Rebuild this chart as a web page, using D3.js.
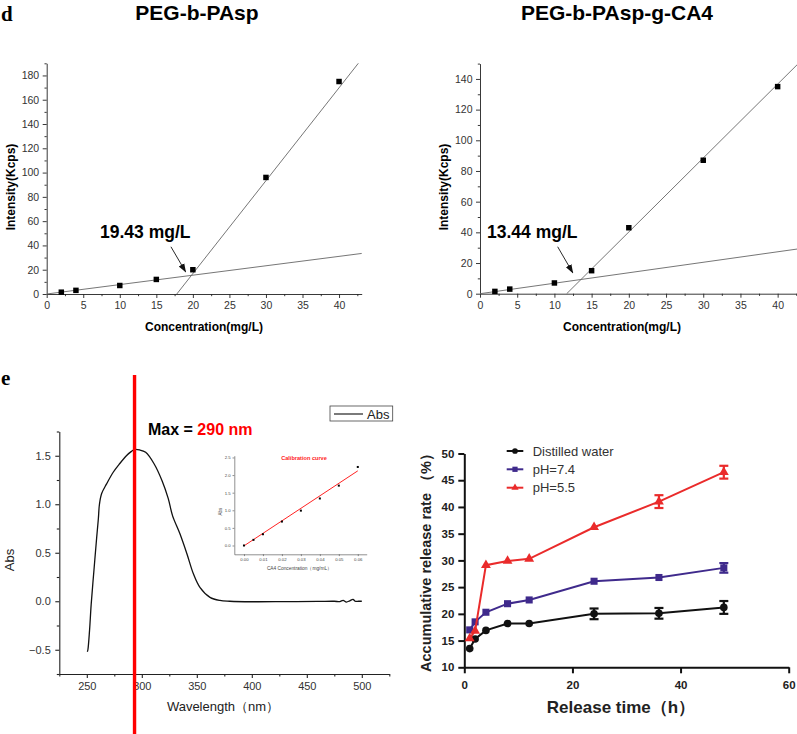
<!DOCTYPE html>
<html><head><meta charset="utf-8">
<script src="https://cdn.jsdelivr.net/npm/d3@7"></script>
<style>body{margin:0;background:#fff}svg{display:block}</style>
</head><body>
<svg id="c" width="797" height="734"></svg>
<script>
// ---------- Panel d (left): PEG-b-PAsp ----------
const concA = [2, 4, 10, 15, 20, 30, 40];
const intensityA = [1.5, 3, 7, 12, 20, 96, 175];
const fitLowA = { slope: 0.775, intercept: 0 };
const fitHighA = { slope: 7.65, x0: 17.8 };
const cmcLabelA = "19.43 mg/L";
const cmcTextA = [7.3, 46];
const cmcArrowA = [[17.0, 38.9], [19.0, 18.3]];

// ---------- Panel d (right): PEG-b-PAsp-g-CA4 ----------
const concB = [2, 4, 10, 15, 20, 30, 40];
const intensityB = [1.5, 3, 7, 15, 43, 87, 135];
const fitLowB = { slope: 0.683, intercept: 0 };
const fitHighB = { slope: 4.82, x0: 11.65 };
const cmcLabelB = "13.44 mg/L";
const cmcTextB = [0.94, 36.3];
const cmcArrowB = [[10.44, 30.6], [12.46, 13.7]];

const concTicks = [0, 5, 10, 15, 20, 25, 30, 35, 40];
const concMinor = [2.5, 7.5, 12.5, 17.5, 22.5, 27.5, 32.5, 37.5, 42.5];
const intTicksA = [0, 20, 40, 60, 80, 100, 120, 140, 160, 180];
const intMinorA = [10, 30, 50, 70, 90, 110, 130, 150, 170, 190];
const intTicksB = [0, 20, 40, 60, 80, 100, 120, 140];
const intMinorB = [10, 30, 50, 70, 90, 110, 130, 150];

// ---------- Panel e (left): UV spectrum ----------
const wavelength = [250.5, 251, 252.5, 254, 256.5, 259, 260.5, 261.5, 263.5, 268, 274, 280, 286, 290, 293.5, 298, 303.5, 311, 318.5, 324, 328, 334.5, 341, 347, 353, 362, 371, 380, 400, 430, 460, 475, 480, 483, 486, 489, 492, 494, 497, 500];
const absorbance = [-0.52, -0.50, -0.30, -0.03, 0.32, 0.66, 0.85, 1.00, 1.11, 1.21, 1.33, 1.42, 1.50, 1.54, 1.565, 1.56, 1.535, 1.42, 1.24, 1.06, 0.88, 0.70, 0.49, 0.28, 0.14, 0.04, 0.008, 0.0, -0.005, -0.004, -0.002, 0.0, -0.004, 0.01, -0.008, 0.004, 0.02, 0.0, 0.0, 0.0];
const maxWavelengthLine = 293.4;
const wlTicks = [250, 300, 350, 400, 450, 500];
const wlMinor = [225, 275, 325, 375, 425, 475, 525];
const absTicks = [-0.5, 0.0, 0.5, 1.0, 1.5];
const absMinor = [-0.75, -0.25, 0.25, 0.75, 1.25, 1.75];

// inset calibration curve
const calConc = [0.0, 0.005, 0.01, 0.02, 0.03, 0.04, 0.05, 0.06];
const calAbs = [0.0, 0.16, 0.32, 0.68, 0.99, 1.335, 1.70, 2.23];
const calFit = { slope: 35.5, intercept: -0.01, from: 0.0, to: 0.06 };
const calXTicks = [0.00, 0.01, 0.02, 0.03, 0.04, 0.05, 0.06];
const calYTicks = [0.0, 0.5, 1.0, 1.5, 2.0, 2.5];

// ---------- Panel e (right): release ----------
const timeH = [1, 2, 4, 8, 12, 24, 36, 48];
const water = [13.5, 15.3, 16.9, 18.2, 18.2, 20.0, 20.1, 21.2];
const waterErr = [0, 0, 0, 0, 0, 1.0, 1.0, 1.2];
const ph74 = [17.0, 18.5, 20.3, 21.9, 22.6, 26.1, 26.8, 28.6];
const ph74Err = [0, 0, 0, 0, 0, 0, 0, 0.9];
const ph55 = [15.4, 16.8, 29.1, 29.9, 30.3, 36.2, 41.0, 46.5];
const ph55Err = [0, 0, 0, 0, 0, 0, 1.2, 1.2];
const seriesNames = ["Distilled water", "pH=7.4", "pH=5.5"];
const timeTicks = [0, 20, 40, 60];
const rateTicks = [10, 15, 20, 25, 30, 35, 40, 45, 50];

// =================================================================
const FONT = '"Liberation Sans", Arial, Helvetica, sans-serif';
const SERIF = '"Liberation Serif", "Times New Roman", serif';
const svg = d3.select("#c");

function makeAxis(orient, scale, tx, ty, major, minor, fmt, st) {
  const A = orient === "left" ? d3.axisLeft : d3.axisBottom;
  if (minor && minor.length) {
    const gm = svg.append("g").attr("transform", `translate(${tx},${ty})`)
      .call(A(scale).tickValues(minor).tickFormat("").tickSize(st.minorLen).tickSizeOuter(0));
    gm.select(".domain").remove();
    gm.selectAll("line").attr("stroke", st.stroke).attr("stroke-width", st.sw);
  }
  const g = svg.append("g").attr("transform", `translate(${tx},${ty})`)
    .call(A(scale).tickValues(major).tickFormat(fmt).tickSize(st.len).tickPadding(st.pad).tickSizeOuter(0));
  g.select(".domain").attr("stroke", st.stroke).attr("stroke-width", st.sw);
  g.selectAll(".tick line").attr("stroke", st.stroke).attr("stroke-width", st.sw);
  g.selectAll("text").attr("font-family", st.family || FONT).attr("font-size", st.fs)
    .attr("font-weight", st.fw || "normal").attr("fill", st.color);
  return g;
}

function text(x, y, str, o) {
  const t = svg.append("text").attr("x", x).attr("y", y).text(str)
    .attr("font-family", o.family || FONT).attr("font-size", o.fs)
    .attr("font-weight", o.fw || "normal").attr("fill", o.color || "#000")
    .attr("text-anchor", o.anchor || "start");
  if (o.rotate) t.attr("transform", `rotate(${o.rotate},${x},${y})`);
  return t;
}

// arrow marker
svg.append("defs").append("marker").attr("id", "arr").attr("viewBox", "0 0 10 10")
  .attr("refX", 9).attr("refY", 5).attr("markerWidth", 9).attr("markerHeight", 9)
  .attr("markerUnits", "userSpaceOnUse").attr("orient", "auto")
  .append("path").attr("d", "M0,1.5L10,5L0,8.5Z").attr("fill", "#111");

// ---------- Panel labels & titles ----------
text(1, 21, "d", { fs: 21, fw: "bold", family: SERIF });
text(1, 385, "e", { fs: 21, fw: "bold", family: SERIF });
text(197, 19.5, "PEG-b-PAsp", { fs: 21, fw: "bold", anchor: "middle" });
text(617, 19.5, "PEG-b-PAsp-g-CA4", { fs: 21, fw: "bold", anchor: "middle" });

// ---------- CMC panels ----------
function cmcPanel(xs, ys, fitLow, fitHigh, xRange, yRange, xDomMax, yDomMax, yTicks, yMinor, label, labelPos, arrow, yLabX, xLabX) {
  const x = d3.scaleLinear().domain([0, xDomMax]).range(xRange);
  const y = d3.scaleLinear().domain([0, yDomMax]).range(yRange);
  const st = { len: 4, minorLen: 2.2, pad: 3.5, stroke: "#222", sw: 0.9, fs: 10.5, color: "#333" };
  makeAxis("bottom", x, 0, yRange[0], concTicks, concMinor.filter(v => v <= xDomMax), d3.format("d"), st);
  makeAxis("left", y, xRange[0], 0, yTicks, yMinor, d3.format("d"), st);
  // fit lines
  const lowEnd = xDomMax;
  svg.append("line").attr("x1", x(0)).attr("y1", y(fitLow.intercept))
    .attr("x2", x(lowEnd)).attr("y2", y(fitLow.intercept + fitLow.slope * lowEnd))
    .attr("stroke", "#666").attr("stroke-width", 0.9);
  const hiEnd = Math.min(xDomMax, fitHigh.x0 + yDomMax / fitHigh.slope);
  svg.append("line").attr("x1", x(fitHigh.x0)).attr("y1", y(0))
    .attr("x2", x(hiEnd)).attr("y2", y(fitHigh.slope * (hiEnd - fitHigh.x0)))
    .attr("stroke", "#666").attr("stroke-width", 0.9);
  // points
  const sq = d3.symbol(d3.symbolSquare, 30);
  svg.append("g").selectAll("path").data(xs).join("path")
    .attr("d", sq).attr("transform", (d, i) => `translate(${x(d)},${y(ys[i])})`).attr("fill", "#000");
  // annotation
  text(x(labelPos[0]), y(labelPos[1]), label, { fs: 17.5, fw: "bold" });
  svg.append("line").attr("x1", x(arrow[0][0])).attr("y1", y(arrow[0][1]))
    .attr("x2", x(arrow[1][0])).attr("y2", y(arrow[1][1]))
    .attr("stroke", "#111").attr("stroke-width", 0.9).attr("marker-end", "url(#arr)");
  // axis labels
  const yMid = 187;
  text(yLabX, yMid, "Intensity(Kcps)", { fs: 12, fw: "bold", anchor: "middle", rotate: -90 });
  text(xLabX, 331, "Concentration(mg/L)", { fs: 12, fw: "bold", anchor: "middle" });
}
cmcPanel(concA, intensityA, fitLowA, fitHighA, [46.7, 361.7], [294, 63.3], 43.1, 190, intTicksA, intMinorA, cmcLabelA, cmcTextA, cmcArrowA, 15, 204);
cmcPanel(concB, intensityB, fitLowB, fitHighB, [480, 797], [293.7, 63.6], 42.6, 150, intTicksB, intMinorB, cmcLabelB, cmcTextB, cmcArrowB, 448, 622);

// ---------- UV spectrum ----------
{
  const x = d3.scaleLinear().domain([225, 525]).range([59.3, 389.3]);
  const y = d3.scaleLinear().domain([-0.75, 1.75]).range([674, 431.5]);
  const st = { len: 4, minorLen: 2.5, pad: 4.5, stroke: "#222", sw: 1.1, fs: 11, color: "#333" };
  makeAxis("bottom", x, 0, 674, wlTicks, wlMinor, d3.format("d"), st);
  makeAxis("left", y, 59.3, 0, absTicks, absMinor, d3.format(".1f"), st);
  const line = d3.line().x((d, i) => x(wavelength[i])).y((d, i) => y(absorbance[i])).curve(d3.curveCatmullRom.alpha(0.5));
  svg.append("path").attr("d", line(wavelength)).attr("fill", "none").attr("stroke", "#111").attr("stroke-width", 1.3);
  text(9, 560, "Abs", { fs: 13, anchor: "middle", rotate: -90, color: "#222" }).attr("dy", "0.35em");
  text(223, 711, "Wavelength（nm）", { fs: 13, anchor: "middle", color: "#222" });
  // red max line
  svg.append("line").attr("x1", x(maxWavelengthLine)).attr("x2", x(maxWavelengthLine))
    .attr("y1", 375).attr("y2", 734).attr("stroke", "#f00").attr("stroke-width", 3.4);
  // Max label
  const t = text(148, 435, "Max = ", { fs: 16, fw: "bold" });
  t.append("tspan").attr("fill", "#f00").text("290 nm");
  // legend
  svg.append("rect").attr("x", 330).attr("y", 406).attr("width", 62.7).attr("height", 15)
    .attr("fill", "#fff").attr("stroke", "#444").attr("stroke-width", 0.8);
  svg.append("line").attr("x1", 334).attr("x2", 363).attr("y1", 414).attr("y2", 414).attr("stroke", "#222").attr("stroke-width", 1.2);
  text(367, 418.5, "Abs", { fs: 13, color: "#222" });

  // inset
  const ix = d3.scaleLinear().domain([-0.0051, 0.0647]).range([234.3, 366.7]);
  const iy = d3.scaleLinear().domain([-0.25, 2.55]).range([554.3, 455.7]);
  const ist = { len: 1.8, minorLen: 1, pad: 1.8, stroke: "#444", sw: 0.6, fs: 4.3, color: "#444" };
  makeAxis("bottom", ix, 0, 554.3, calXTicks, [], d3.format(".2f"), ist);
  makeAxis("left", iy, 234.3, 0, calYTicks, [], d3.format(".1f"), ist);
  svg.append("line").attr("x1", ix(calFit.from)).attr("y1", iy(calFit.intercept + calFit.slope * calFit.from))
    .attr("x2", ix(calFit.to)).attr("y2", iy(calFit.intercept + calFit.slope * calFit.to))
    .attr("stroke", "#f22").attr("stroke-width", 1);
  svg.append("g").selectAll("rect").data(calConc).join("rect")
    .attr("x", d => ix(d) - 1).attr("y", (d, i) => iy(calAbs[i]) - 1).attr("width", 2).attr("height", 2).attr("fill", "#000");
  text(304, 460, "Calibration curve", { fs: 5.6, fw: "bold", color: "#f22", anchor: "middle" });
  text(220, 511.7, "Abs", { fs: 4.5, anchor: "middle", rotate: -90, color: "#444" }).attr("dy", "0.35em");
  text(299.5, 569.5, "CA4 Concentration（mg/mL）", { fs: 4.8, anchor: "middle", color: "#444" });
}

// ---------- Release curves ----------
{
  const x = d3.scaleLinear().domain([0, 60]).range([464.3, 788.7]);
  const y = d3.scaleLinear().domain([10, 50]).range([667.3, 453.5]);
  const st = { len: 6, minorLen: 0, pad: 4, stroke: "#111", sw: 2, fs: 11.5, fw: "bold", color: "#222" };
  makeAxis("bottom", x, 0, 667.3, timeTicks, [], d3.format("d"), Object.assign({}, st, { pad: 7.5 }));
  makeAxis("left", y, 464.3, 0, rateTicks, [], d3.format("d"), st);

  const series = [
    { name: seriesNames[0], vals: water, err: waterErr, color: "#111", sym: d3.symbolCircle, size: 46 },
    { name: seriesNames[1], vals: ph74, err: ph74Err, color: "#3f2a8c", sym: d3.symbolSquare, size: 50 },
    { name: seriesNames[2], vals: ph55, err: ph55Err, color: "#ea2b2b", sym: d3.symbolTriangle, size: 42 }
  ];
  const line = d3.line().x((d, i) => x(timeH[i])).y(d => y(d));
  series.forEach(s => {
    const g = svg.append("g");
    g.append("path").attr("d", line(s.vals)).attr("fill", "none").attr("stroke", s.color).attr("stroke-width", 2);
    s.vals.forEach((v, i) => {
      if (s.err[i] > 0) {
        const cx = x(timeH[i]), y1 = y(v + s.err[i]), y2 = y(v - s.err[i]);
        g.append("line").attr("x1", cx).attr("x2", cx).attr("y1", y1).attr("y2", y2).attr("stroke", s.color).attr("stroke-width", 2.2);
        [y1, y2].forEach(yy => g.append("line").attr("x1", cx - 4.5).attr("x2", cx + 4.5).attr("y1", yy).attr("y2", yy).attr("stroke", s.color).attr("stroke-width", 2.2));
      }
    });
    g.selectAll("path.m").data(s.vals).join("path").attr("class", "m")
      .attr("d", d3.symbol(s.sym, s.size)).attr("fill", s.color)
      .attr("transform", (d, i) => `translate(${x(timeH[i])},${y(d)})`);
  });
  // legend
  const ly = [451, 469.3, 487.7];
  series.forEach((s, k) => {
    svg.append("line").attr("x1", 506.7).attr("x2", 523.3).attr("y1", ly[k]).attr("y2", ly[k]).attr("stroke", s.color).attr("stroke-width", 2);
    svg.append("path").attr("d", d3.symbol(s.sym, s.size * 0.55)).attr("fill", s.color).attr("transform", `translate(515,${ly[k]})`);
    text(532.7, ly[k] + 4.7, s.name, { fs: 13, color: "#333" });
  });
  text(621, 712.5, "Release time（h）", { fs: 17, fw: "bold", anchor: "middle", color: "#222" });
  text(431, 559, "Accumulative release rate （%）", { fs: 14.5, fw: "bold", anchor: "middle", rotate: -90, color: "#222" });
}
</script>
</body></html>
